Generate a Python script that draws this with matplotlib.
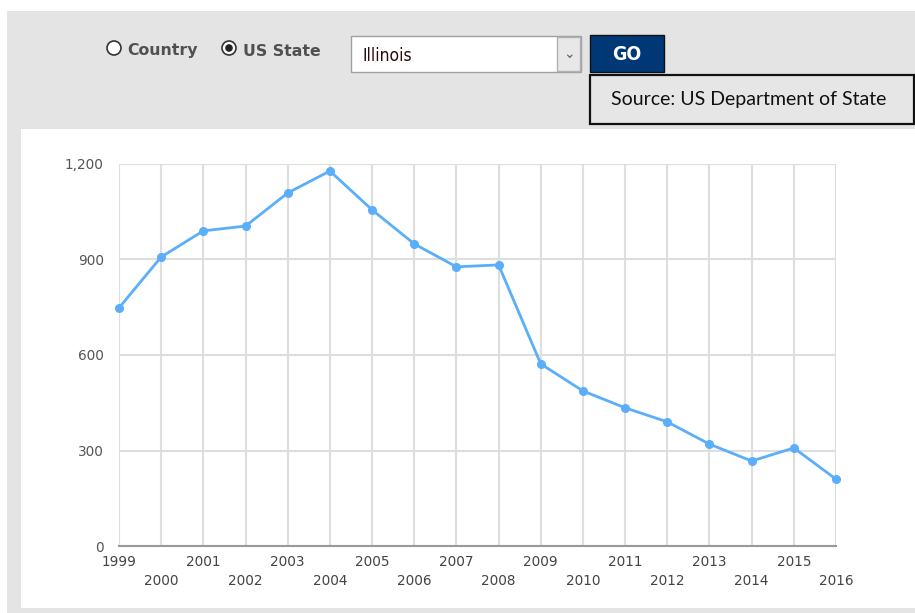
import matplotlib.pyplot as plt
from matplotlib.patches import Rectangle, Circle
from matplotlib.ticker import FuncFormatter

years = list(range(1999, 2017))
visas = [748, 908, 990, 1005, 1109, 1178, 1056, 949, 877, 883,
         572, 487, 434, 390, 320, 267, 308, 210]
y_ticks = [0, 300, 600, 900, 1200]

state = "Illinois"
source_text = "Source: US Department of State"

W, H = 915, 613
fig = plt.figure(figsize=(W / 100, H / 100), dpi=100)
fig.patch.set_facecolor("white")

# page layer in pixel coordinates
bg = fig.add_axes([0, 0, 1, 1])
bg.set_xlim(0, W)
bg.set_ylim(H, 0)
bg.axis("off")

bg.add_patch(Rectangle((7, 11), W - 7, H - 11, facecolor="#e4e4e4", edgecolor="none"))
bg.add_patch(Rectangle((21, 129), W - 21, 479, facecolor="white", edgecolor="none"))

# radio buttons
bg.add_patch(Circle((114, 48), 7, facecolor="white", edgecolor="#333333", lw=1.2))
bg.text(127, 51, "Country", fontsize=11.3, fontweight="bold", color="#505050", va="center")
bg.add_patch(Circle((229, 48), 7, facecolor="white", edgecolor="#333333", lw=1.2))
bg.add_patch(Circle((229, 48), 3.8, facecolor="#222222", edgecolor="none"))
bg.text(243, 51, "US State", fontsize=11.3, fontweight="bold", color="#505050", va="center")

# dropdown
bg.add_patch(Rectangle((351, 36), 230, 36, facecolor="white", edgecolor="#a0a0a0", lw=1))
bg.add_patch(Rectangle((557, 37), 23, 34, facecolor="#e8e8e8", edgecolor="#b0b0b0", lw=1))
bg.text(569, 54, "\u2304", fontsize=10, color="#666666", ha="center", va="center")
bg.text(362, 56, state, fontsize=12.5, color="#2a0a0a", va="center",
        family="DejaVu Sans", fontstretch="condensed")

# GO button
bg.add_patch(Rectangle((590, 35), 74, 37, facecolor="#003876", edgecolor="#111111", lw=1))
bg.text(627, 54, "GO", fontsize=14, fontweight="bold", color="white",
        ha="center", va="center", fontstretch="condensed")

# source box
bg.add_patch(Rectangle((590, 75), 324, 49, facecolor="#e6e6e6", edgecolor="#111111", lw=1.6))
bg.text(749, 100, source_text, fontsize=14, color="#111111",
        ha="center", va="center", family="Lato")

# chart
x0, x1, ytop, ybot = 119, 836, 164, 546
ax = fig.add_axes([x0 / W, (H - ybot) / H, (x1 - x0) / W, (ybot - ytop) / H])
ax.set_facecolor("white")
ax.plot(years, visas, color="#5aaefa", lw=2, marker="o", ms=5.5, zorder=3, clip_on=False)
ax.set_xlim(1999, 2016)
ax.set_ylim(0, 1200)

ax.set_yticks(y_ticks)
ax.yaxis.set_major_formatter(FuncFormatter(lambda v, p: f"{int(v):,}"))
ax.set_xticks([y for y in years if y % 2 == 1])
ax.set_xticks([y for y in years if y % 2 == 0], minor=True)
ax.set_xticklabels([str(y) for y in years if y % 2 == 1])
ax.set_xticklabels([str(y) for y in years if y % 2 == 0], minor=True)

ax.tick_params(axis="x", which="major", length=0, pad=6.5, labelsize=9.8, labelcolor="#444444")
ax.tick_params(axis="x", which="minor", length=0, pad=20, labelsize=9.8, labelcolor="#444444")
ax.tick_params(axis="y", length=0, pad=11, labelsize=9.8, labelcolor="#555555")

ax.grid(True, which="both", axis="x", color="#dedede", lw=1.5)
ax.grid(True, which="major", axis="y", color="#dedede", lw=1.5)
ax.set_axisbelow(True)
for side in ["top", "right", "left"]:
    ax.spines[side].set_visible(False)
ax.spines["bottom"].set_color("#999999")
ax.spines["bottom"].set_linewidth(1.5)

fig.savefig("out.png", dpi=100)
